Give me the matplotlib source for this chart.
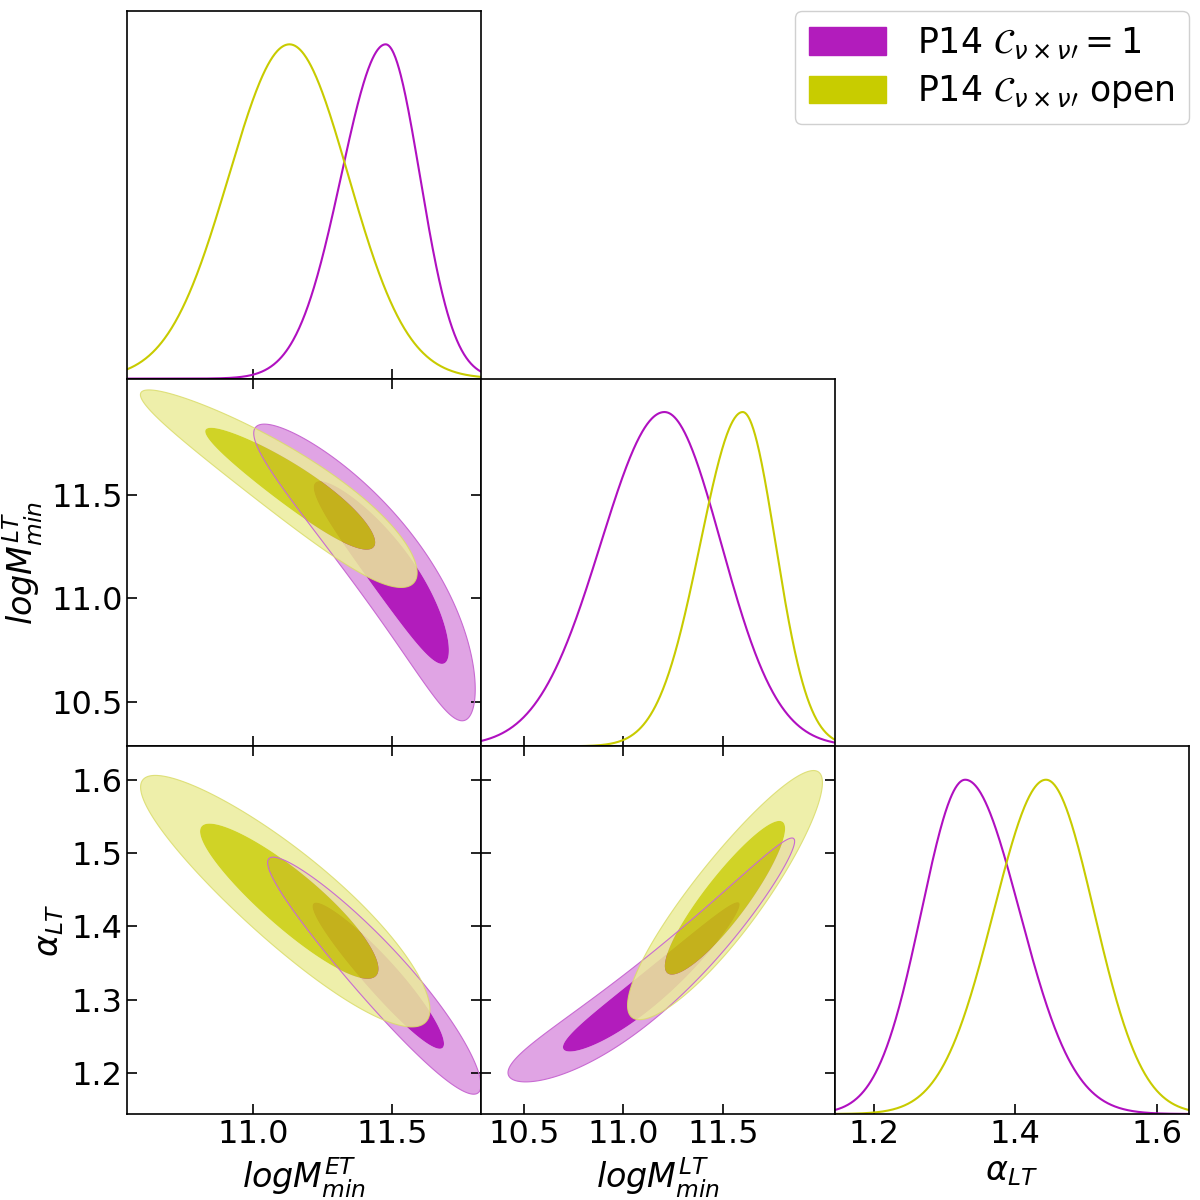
import numpy as np
import matplotlib
matplotlib.use("Agg")
import matplotlib.pyplot as plt
from matplotlib.patches import Patch
from matplotlib.ticker import FormatStrFormatter

# ---------------- data ----------------
labels = [r"$logM^{ET}_{min}$", r"$logM^{LT}_{min}$", r"$\alpha_{LT}$"]
limits = [(10.549, 11.821), (10.285, 12.062), (1.1445, 1.6455)]
ticks = [[11.0, 11.5], [10.5, 11.0, 11.5], [1.2, 1.4, 1.6]]
yticks_alpha = [1.2, 1.3, 1.4, 1.5, 1.6]

series_names = [r"P14 $\mathcal{C}_{\nu\times\nu\prime}=1$",
                r"P14 $\mathcal{C}_{\nu\times\nu\prime}$ open"]

# 1D marginals: (mode, sigma_left, sigma_right) per parameter
marg_purple = [(11.478, 0.160, 0.123), (11.206, 0.320, 0.285), (1.329, 0.062, 0.077)]
marg_yellow = [(11.132, 0.218, 0.212), (11.599, 0.213, 0.165), (1.4434, 0.074, 0.068)]

# 2D posteriors: base variable ~ N(mu, sigma);
# other variable ~ N(a + b d + c d^2, s * exp(k d)),  d = base - mu
post_purple = {
    (1, 0): dict(base="y", mu=11.155, sigma=0.292, a=11.485, b=-0.508, c=-0.20, s=0.068, k=0.35),
    (2, 0): dict(base="y", mu=1.333, sigma=0.066, a=11.46, b=-2.232, c=-1.0, s=0.053, k=0.0),
    (2, 1): dict(base="x", mu=11.14, sigma=0.294, a=1.317, b=0.219, c=0.08, s=0.019, k=0.0),
}
post_yellow = {
    (1, 0): dict(base="y", mu=11.53, sigma=0.195, a=11.16, b=-0.95, c=-0.35, s=0.080, k=0.0),
    (2, 0): dict(base="y", mu=1.4345, sigma=0.070, a=11.14, b=-2.69, c=-1.0, s=0.098, k=0.0),
    (2, 1): dict(base="x", mu=11.51, sigma=0.200, a=1.437, b=0.310, c=0.03, s=0.031, k=0.0),
}

# ---------------- styles ----------------
P_dark = "#B21CBC"
P_light = "#E0A4E4"
P_edge = "#C86AD2"
P_line = "#B010C0"
Y_dark = "#C8CC00"
Y_light = "#EBED9B"
Y_edge = "#DADC6A"
Y_line = "#C8CB00"
Y_alpha = 0.85

fig = plt.figure(figsize=(12, 12), dpi=100)
L0, B0 = 127.3 / 1200, 1 - 1114 / 1200
W, H = 353.8 / 1200, 367.7 / 1200


def split_normal(x, mode, sl, sr):
    s = np.where(x < mode, sl, sr)
    return np.exp(-0.5 * ((x - mode) / s) ** 2)


def density(X, Y, p):
    t, w = (Y, X) if p["base"] == "y" else (X, Y)
    d = t - p["mu"]
    ctr = p["a"] + p["b"] * d + p["c"] * d ** 2
    s = p["s"] * np.exp(p["k"] * d)
    return np.exp(-0.5 * (d / p["sigma"]) ** 2 - 0.5 * ((w - ctr) / s) ** 2) / s


def mass_levels(Z, masses=(0.95, 0.68)):
    z = np.sort(Z.ravel())[::-1]
    cum = np.cumsum(z)
    cum /= cum[-1]
    return [z[np.searchsorted(cum, m)] for m in masses]


def draw2d(ax, xl, yl, p, light, dark, edge, alpha):
    dx, dy = xl[1] - xl[0], yl[1] - yl[0]
    xs = np.linspace(xl[0] - 0.6 * dx, xl[1] + 0.6 * dx, 700)
    ys = np.linspace(yl[0] - 0.6 * dy, yl[1] + 0.6 * dy, 700)
    X, Y = np.meshgrid(xs, ys)
    Z = density(X, Y, p)
    l95, l68 = mass_levels(Z)
    ax.contourf(X, Y, Z, levels=[l95, l68, Z.max() * 1.01],
                colors=[light, dark], alpha=alpha, antialiased=True)
    ax.contour(X, Y, Z, levels=[l95], colors=[edge], linewidths=0.8, alpha=alpha)


for i in range(3):
    for j in range(i + 1):
        ax = fig.add_axes([L0 + j * W, B0 + (2 - i) * H, W, H])
        for sp in ax.spines.values():
            sp.set_linewidth(1.2)
        if i == j:
            x = np.linspace(limits[j][0], limits[j][1], 600)
            ax.plot(x, split_normal(x, *marg_purple[j]), color=P_line, lw=1.5)
            ax.plot(x, split_normal(x, *marg_yellow[j]), color=Y_line, lw=1.5)
            ax.set_ylim(0, 1.1)
            ax.set_yticks([])
            ax.tick_params(axis="x", direction="in", length=7, width=1.2,
                           labelsize=23, top=False, bottom=True)
        else:
            draw2d(ax, limits[j], limits[i], post_purple[(i, j)],
                   P_light, P_dark, P_edge, 1.0)
            draw2d(ax, limits[j], limits[i], post_yellow[(i, j)],
                   Y_light, Y_dark, Y_edge, Y_alpha)
            ax.set_ylim(*limits[i])
            ax.set_yticks(yticks_alpha if i == 2 else ticks[i])
            ax.yaxis.set_major_formatter(FormatStrFormatter("%.1f"))
            ax.tick_params(axis="both", direction="in", length=7, width=1.2,
                           labelsize=23, top=True, right=True)
        ax.set_xlim(*limits[j])
        ax.set_xticks(ticks[j])
        ax.xaxis.set_major_formatter(FormatStrFormatter("%.1f"))
        if i < 2:
            ax.tick_params(axis="x", labelbottom=False)
        else:
            ax.set_xlabel(labels[j], fontsize=24)
        if j > 0 or i == 0:
            ax.tick_params(axis="y", labelleft=False)
        else:
            ax.set_ylabel(labels[i], fontsize=24)

handles = [Patch(facecolor=P_dark, edgecolor=P_dark),
           Patch(facecolor=Y_dark, edgecolor=Y_dark)]
fig.legend(handles, series_names, loc="upper right", bbox_to_anchor=(0.9905, 0.9905),
           borderaxespad=0.0, fontsize=25, handlelength=2.2, handleheight=0.85,
           borderpad=0.4, labelspacing=0.35, handletextpad=0.9, framealpha=1.0,
           edgecolor="#d0d0d0")

fig.savefig("out.png", dpi=100)
